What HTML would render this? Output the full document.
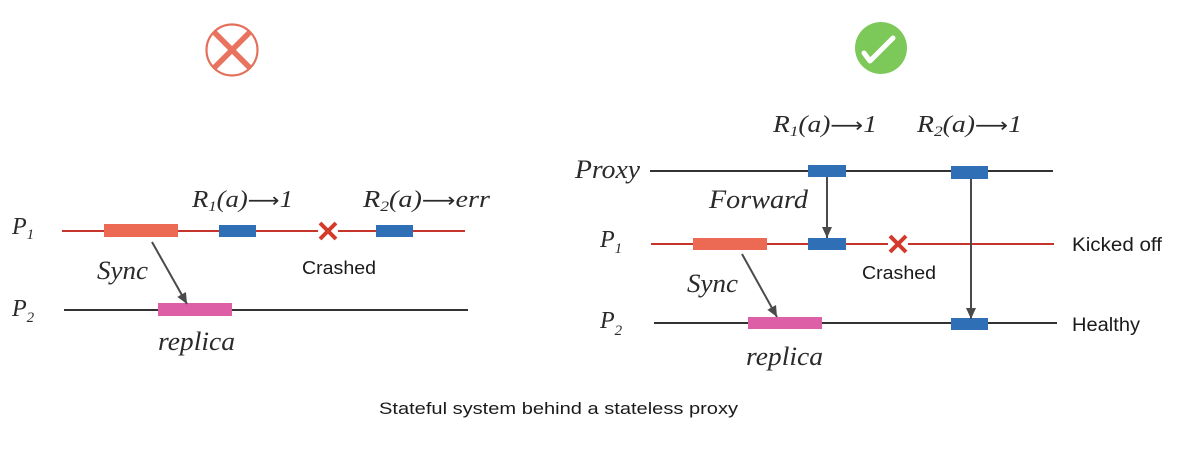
<!DOCTYPE html>
<html>
<head>
<meta charset="utf-8">
<style>
  html,body{margin:0;padding:0;background:#fff;}
  svg{display:block;}
  .ser{font-family:"Liberation Serif",serif;font-style:italic;fill:#2a2a2a;}
  .san{font-family:"Liberation Sans",sans-serif;fill:#1a1a1a;}
  .arr{font-family:"DejaVu Sans",sans-serif;font-style:normal;}
</style>
</head>
<body>
<svg width="1189" height="450" viewBox="0 0 1189 450" xmlns="http://www.w3.org/2000/svg">
  <defs>
    <marker id="ah" markerWidth="12" markerHeight="12" refX="11" refY="6" orient="auto" markerUnits="userSpaceOnUse">
      <path d="M0,1 L11,6 L0,11 Z" fill="#4a4a4a"/>
    </marker>
  </defs>

  <!-- Icons -->
  <circle cx="232" cy="50" r="25.5" fill="none" stroke="#e4705c" stroke-width="2.2"/>
  <line x1="214.5" y1="32.5" x2="249.5" y2="67.5" stroke="#e8735e" stroke-width="5.5"/>
  <line x1="249.5" y1="32.5" x2="214.5" y2="67.5" stroke="#e8735e" stroke-width="5.5"/>

  <circle cx="881" cy="48" r="26" fill="#7cc95a"/>
  <polyline points="864,53 870,61 893,38" fill="none" stroke="#fff" stroke-width="5" stroke-linecap="round" stroke-linejoin="round"/>

  <!-- LEFT PANEL -->
  <line x1="62" y1="231" x2="465" y2="231" stroke="#c6352c" stroke-width="2"/>
  <line x1="64" y1="310" x2="468" y2="310" stroke="#333" stroke-width="2"/>
  <rect x="104" y="224" width="74" height="13" fill="#ec6a53"/>
  <rect x="219" y="225" width="37" height="12" fill="#2f6fb5"/>
  <rect x="376" y="225" width="37" height="12" fill="#2f6fb5"/>
  <rect x="158" y="303" width="74" height="13" fill="#dd60a6"/>
  <!-- red X -->
  <rect x="318" y="221" width="20" height="20" fill="#fff"/>
  <line x1="320" y1="223" x2="336" y2="239" stroke="#d23a2c" stroke-width="4"/>
  <line x1="336" y1="223" x2="320" y2="239" stroke="#d23a2c" stroke-width="4"/>
  <line x1="152" y1="242" x2="187" y2="304" stroke="#4a4a4a" stroke-width="2" marker-end="url(#ah)"/>

  <text class="ser" x="12" y="234" font-size="24">P<tspan font-size="15" dy="5">1</tspan></text>
  <text class="ser" x="12" y="316" font-size="24">P<tspan font-size="15" dy="6">2</tspan></text>
  <text class="ser" x="192" y="207" font-size="24" textLength="101" lengthAdjust="spacingAndGlyphs">R<tspan font-size="15" dy="4">1</tspan><tspan dy="-4">(a)</tspan><tspan class="arr" font-size="20">⟶</tspan>1</text>
  <text class="ser" x="363" y="207" font-size="24" textLength="127" lengthAdjust="spacingAndGlyphs">R<tspan font-size="15" dy="4">2</tspan><tspan dy="-4">(a)</tspan><tspan class="arr" font-size="20">⟶</tspan>err</text>
  <text class="ser" x="97" y="279" font-size="26" textLength="51" lengthAdjust="spacingAndGlyphs">Sync</text>
  <text class="ser" x="158" y="350" font-size="26" textLength="77" lengthAdjust="spacingAndGlyphs">replica</text>
  <text class="san" x="302" y="274" font-size="18" textLength="74" lengthAdjust="spacingAndGlyphs">Crashed</text>

  <!-- RIGHT PANEL -->
  <line x1="650" y1="171" x2="1053" y2="171" stroke="#333" stroke-width="2"/>
  <line x1="651" y1="244" x2="1054" y2="244" stroke="#c6352c" stroke-width="2"/>
  <line x1="654" y1="323" x2="1057" y2="323" stroke="#333" stroke-width="2"/>

  <rect x="808" y="165" width="38" height="12" fill="#2f6fb5"/>
  <rect x="951" y="166" width="37" height="13" fill="#2f6fb5"/>
  <rect x="693" y="238" width="74" height="12" fill="#ec6a53"/>
  <rect x="808" y="238" width="38" height="12" fill="#2f6fb5"/>
  <rect x="748" y="317" width="74" height="12" fill="#dd60a6"/>
  <rect x="951" y="318" width="37" height="12" fill="#2f6fb5"/>

  <rect x="888" y="234" width="20" height="20" fill="#fff"/>
  <line x1="890" y1="236" x2="906" y2="252" stroke="#d23a2c" stroke-width="4"/>
  <line x1="906" y1="236" x2="890" y2="252" stroke="#d23a2c" stroke-width="4"/>

  <line x1="827" y1="177" x2="827" y2="238" stroke="#4a4a4a" stroke-width="2" marker-end="url(#ah)"/>
  <line x1="971" y1="179" x2="971" y2="319" stroke="#4a4a4a" stroke-width="2" marker-end="url(#ah)"/>
  <line x1="742" y1="254" x2="777" y2="317" stroke="#4a4a4a" stroke-width="2" marker-end="url(#ah)"/>

  <text class="ser" x="575" y="178" font-size="26" textLength="65" lengthAdjust="spacingAndGlyphs">Proxy</text>
  <text class="ser" x="709" y="208" font-size="26" textLength="99" lengthAdjust="spacingAndGlyphs">Forward</text>
  <text class="ser" x="600" y="247" font-size="24">P<tspan font-size="15" dy="6">1</tspan></text>
  <text class="ser" x="600" y="328" font-size="24">P<tspan font-size="15" dy="7">2</tspan></text>
  <text class="ser" x="687" y="292" font-size="26" textLength="51" lengthAdjust="spacingAndGlyphs">Sync</text>
  <text class="ser" x="746" y="365" font-size="26" textLength="77" lengthAdjust="spacingAndGlyphs">replica</text>
  <text class="ser" x="773" y="132" font-size="24" textLength="104" lengthAdjust="spacingAndGlyphs">R<tspan font-size="15" dy="4">1</tspan><tspan dy="-4">(a)</tspan><tspan class="arr" font-size="20">⟶</tspan>1</text>
  <text class="ser" x="917" y="132" font-size="24" textLength="105" lengthAdjust="spacingAndGlyphs">R<tspan font-size="15" dy="4">2</tspan><tspan dy="-4">(a)</tspan><tspan class="arr" font-size="20">⟶</tspan>1</text>
  <text class="san" x="862" y="279" font-size="18" textLength="74" lengthAdjust="spacingAndGlyphs">Crashed</text>
  <text class="san" x="1072" y="251" font-size="19" textLength="90" lengthAdjust="spacingAndGlyphs">Kicked off</text>
  <text class="san" x="1072" y="331" font-size="19" textLength="68" lengthAdjust="spacingAndGlyphs">Healthy</text>

  <!-- caption -->
  <text class="san" x="379" y="414" font-size="17" textLength="359" lengthAdjust="spacingAndGlyphs">Stateful system behind a stateless proxy</text>
</svg>
</body>
</html>
